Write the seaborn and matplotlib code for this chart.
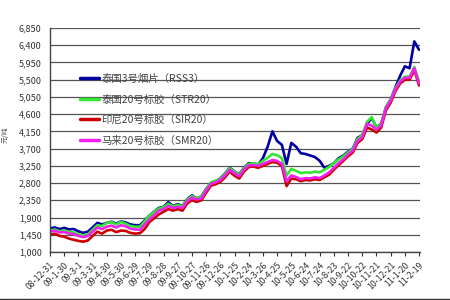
import matplotlib
matplotlib.use("Agg")
import matplotlib.pyplot as plt
import matplotlib.lines as mlines
import seaborn as sns
import pandas as pd
import numpy as np

# ---- data (values every 10 days from 2008-12-31) ----
start_date = "2008-12-31"
rss3 = [1620, 1640, 1600, 1630, 1590, 1600, 1540, 1500, 1530, 1640,
        1760, 1720, 1760, 1790, 1740, 1800, 1770, 1720, 1700, 1700,
        1820, 1950, 2050, 2150, 2180, 2300, 2200, 2250, 2200, 2380,
        2480, 2400, 2450, 2650, 2800, 2850, 2920, 3050, 3200, 3100,
        3030, 3200, 3320, 3310, 3280, 3450, 3750, 4150, 3900, 3800,
        3300, 3850, 3750, 3580, 3560, 3520, 3480, 3380, 3200, 3250,
        3320, 3450, 3520, 3620, 3700, 3980, 4050, 4350, 4500, 4250,
        4350, 4780, 4980, 5300, 5600, 5850, 5800, 6500, 6280]
str20 = [1560, 1590, 1540, 1560, 1520, 1510, 1460, 1430, 1460, 1580,
         1700, 1680, 1760, 1780, 1720, 1790, 1740, 1680, 1660, 1660,
         1800, 1950, 2040, 2130, 2170, 2260, 2190, 2230, 2190, 2370,
         2460, 2400, 2440, 2640, 2820, 2860, 2910, 3040, 3190, 3090,
         3020, 3190, 3300, 3320, 3290, 3380, 3460, 3560, 3530, 3450,
         3000, 3170, 3120, 3060, 3080, 3070, 3100, 3080, 3150, 3220,
         3330, 3420, 3500, 3600, 3690, 3950, 4050, 4400, 4520, 4250,
         4340, 4780, 4980, 5280, 5480, 5580, 5580, 5830, 5450]
sir20 = [1450, 1480, 1420, 1400, 1350, 1320, 1290, 1270, 1300, 1420,
         1530, 1480, 1560, 1580, 1520, 1560, 1550, 1500, 1480, 1490,
         1600, 1780, 1880, 1980, 2050, 2120, 2080, 2120, 2080, 2270,
         2350, 2310, 2350, 2550, 2730, 2770, 2830, 2950, 3100, 2990,
         2920, 3100, 3220, 3230, 3200, 3250, 3300, 3350, 3330, 3250,
         2720, 2920, 2900, 2850, 2880, 2870, 2900, 2880, 2950, 3020,
         3150, 3270, 3380, 3500, 3600, 3850, 3950, 4250, 4200, 4120,
         4250, 4700, 4900, 5200, 5400, 5500, 5500, 5750, 5350]
smr20 = [1530, 1560, 1510, 1520, 1480, 1470, 1420, 1390, 1420, 1530,
         1640, 1600, 1660, 1690, 1640, 1700, 1670, 1610, 1590, 1580,
         1720, 1850, 1960, 2080, 2120, 2200, 2150, 2180, 2150, 2330,
         2420, 2370, 2400, 2600, 2780, 2820, 2880, 3000, 3150, 3050,
         2980, 3150, 3260, 3270, 3250, 3300, 3350, 3400, 3380, 3300,
         2850, 3000, 2960, 2900, 2930, 2920, 2950, 2930, 3000, 3080,
         3200, 3320, 3420, 3550, 3650, 3900, 4000, 4350, 4300, 4200,
         4300, 4750, 4950, 5250, 5450, 5550, 5550, 5800, 5400]

series_names = ["泰国3号烟片（RSS3）", "泰国20号标胶（STR20）",
                "印尼20号标胶（SIR20）", "马来20号标胶（SMR20）"]
series_colors = ["#0000A0", "#33E633", "#CC0000", "#F020F0"]

y_ticks = [1000, 1450, 1900, 2350, 2800, 3250, 3700, 4150, 4600, 5050,
           5500, 5950, 6400, 6850]
x_tick_labels = ["08-12-31", "09-1-30", "09-3-1", "09-3-31", "09-4-30",
                 "09-5-30", "09-6-29", "09-7-29", "09-8-28", "09-9-27",
                 "09-10-27", "09-11-26", "09-12-26", "10-1-25", "10-2-24",
                 "10-3-26", "10-4-25", "10-5-25", "10-6-24", "10-7-24",
                 "10-8-23", "10-9-22", "10-10-22", "10-11-21", "10-12-21",
                 "11-1-20", "11-2-19"]

# ---- build frame ----
dates = pd.date_range(start_date, periods=len(rss3), freq="10D")
frames = []
for name, vals in zip(series_names, [rss3, str20, sir20, smr20]):
    frames.append(pd.DataFrame({"date": dates, "price": vals, "series": name}))
df = pd.concat(frames, ignore_index=True)

sns.set_style("white")
plt.rcParams["font.family"] = ["Noto Sans CJK SC", "DejaVu Sans"]

fig = plt.figure(figsize=(4.5, 3.0), dpi=100)
ax = fig.add_axes([50 / 450, 1 - 252 / 300, 370 / 450, 224 / 300])

sns.lineplot(data=df, x="date", y="price", hue="series",
             hue_order=series_names, palette=series_colors,
             linewidth=1.9, ax=ax, legend=False)

# axes styling
ax.set_ylim(1000, 6850)
ax.set_yticks(y_ticks)
ax.set_yticklabels([f"{v:,}" for v in y_ticks], fontsize=6.5, color="#333333")
ax.yaxis.grid(True, color="#555555", linewidth=0.9)
ax.set_axisbelow(True)

t0 = pd.Timestamp(start_date)
ax.set_xlim(t0, t0 + pd.Timedelta(days=782))
xt = pd.date_range(start_date, periods=len(x_tick_labels), freq="30D")
ax.set_xticks(xt)
ax.set_xticklabels(x_tick_labels, rotation=45, ha="right",
                   rotation_mode="anchor", fontsize=6.3, color="#333333")
ax.tick_params(axis="x", direction="out", length=3, width=0.8,
               colors="#333333", pad=3, bottom=True)
ax.tick_params(axis="y", length=0, pad=6)
for s in ["top", "right"]:
    ax.spines[s].set_visible(False)
for s in ["left", "bottom"]:
    ax.spines[s].set_color("#444444")
    ax.spines[s].set_linewidth(1.0)
ax.set_xlabel("")
ax.set_ylabel("")

# legend
handles = [mlines.Line2D([], [], color=c, linewidth=2.5) for c in series_colors]
leg = ax.legend(handles, series_names, loc="upper left",
                bbox_to_anchor=(0.08, 0.795), frameon=False,
                fontsize=7.5, handlelength=1.9, handletextpad=0.2,
                labelspacing=1.0, borderpad=0, borderaxespad=0)
for t in leg.get_texts():
    t.set_color("#444444")

# small axis title at far left
fig.text(0.003, 0.55, "元/吨", rotation=90, fontsize=5, color="#555555",
         ha="left", va="center")
# bottom border line
fig.add_artist(mlines.Line2D([0, 1], [0.002, 0.002], color="#333333",
                             linewidth=1.0, transform=fig.transFigure))

fig.savefig("out.png", dpi=100)
